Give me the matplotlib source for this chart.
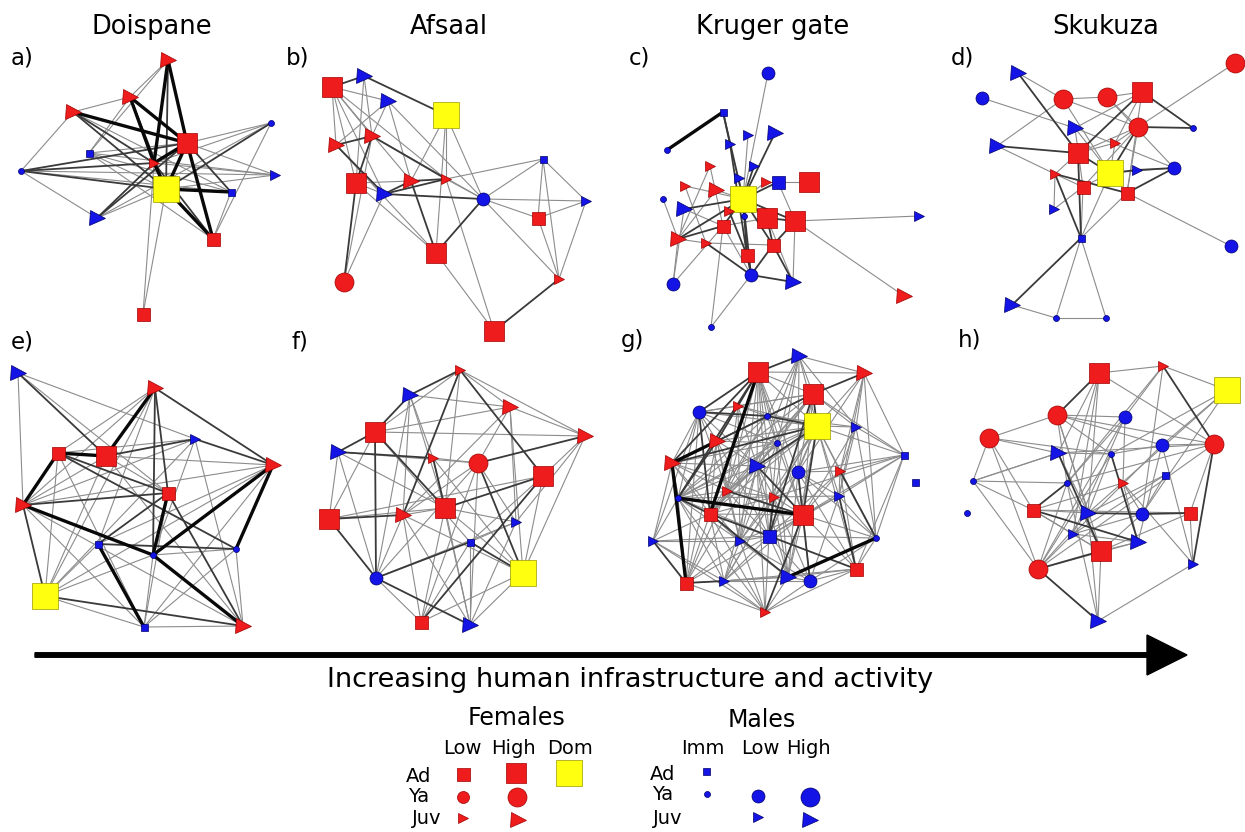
import matplotlib
matplotlib.use("Agg")
import matplotlib.pyplot as plt

RED = "#ee1c1c"
BLUE = "#1414e6"
YEL = "#ffff10"
EDGE_OF = {RED: "#a00000", BLUE: "#00006e", YEL: "#9a9a00"}

# kind -> (marker, colour, size in px)
KINDS = {
    "FAL": ("s", RED, 13), "FAH": ("s", RED, 20), "DOM": ("s", YEL, 26),
    "FYL": ("o", RED, 12), "FYH": ("o", RED, 19),
    "FJL": (">", RED, 10), "FJH": (">", RED, 15),
    "MI": ("s", BLUE, 7), "MA": ("s", BLUE, 13),
    "MYI": ("o", BLUE, 6), "MYL": ("o", BLUE, 13), "MYH": ("o", BLUE, 19),
    "MJL": (">", BLUE, 10), "MJH": (">", BLUE, 15),
}
# edge weight -> (colour, linewidth)
WEIGHTS = {1: ("#8c8c8c", 0.8), 2: ("#3a3a3a", 1.3), 3: ("#080808", 2.4)}

# ---- panel a: Doispane
a_nodes = [(168, 60, "FJH"), (130, 97, "FJH"), (73, 112, "FJH"), (187, 143, "FAH"),
           (89, 153, "MI"), (21, 171, "MYI"), (271, 123, "MYI"), (154, 163, "FJL"),
           (166, 189, "DOM"), (275, 175, "MJL"), (231, 192, "MI"), (97, 218, "MJH"),
           (213, 239, "FAL"), (143, 314, "FAL")]
a_edges = [(0, 1, 1), (0, 4, 1), (0, 3, 3), (0, 7, 3), (0, 8, 2),
           (1, 2, 1), (1, 3, 3), (1, 7, 3), (1, 8, 2), (1, 4, 1),
           (2, 3, 3), (2, 5, 1), (2, 8, 2), (2, 10, 1), (2, 7, 2),
           (3, 7, 3), (3, 8, 3), (3, 6, 1), (3, 9, 1), (3, 12, 3), (3, 10, 2), (3, 11, 2),
           (3, 5, 2), (3, 4, 1), (4, 8, 1), (4, 9, 1), (4, 10, 1), (4, 12, 1),
           (5, 11, 1), (5, 8, 2), (5, 7, 2), (5, 10, 1), (5, 9, 1),
           (6, 8, 2), (6, 12, 1), (6, 7, 1), (6, 11, 1),
           (7, 8, 3), (7, 11, 2), (7, 9, 1), (7, 12, 2),
           (8, 12, 3), (8, 10, 3), (8, 13, 1), (8, 11, 1), (8, 9, 1), (10, 12, 1), (13, 7, 1)]

# ---- panel b: Afsaal
b_nodes = [(332, 87, "FAH"), (364, 76, "MJH"), (388, 101, "MJH"), (446, 115, "DOM"),
           (336, 145, "FJH"), (372, 136, "FJH"), (356, 183, "FAH"), (384, 194, "MJH"),
           (411, 181, "FJH"), (446, 179, "FJL"), (483, 199, "MYL"), (543, 159, "MI"),
           (586, 201, "MJL"), (538, 218, "FAL"), (436, 253, "FAH"), (344, 282, "FYH"),
           (559, 279, "FJL"), (494, 331, "FAH")]
b_edges = [(0, 1, 2), (0, 2, 1), (0, 4, 1), (0, 5, 1), (0, 6, 1), (0, 7, 1), (0, 8, 1), (0, 9, 1),
           (1, 3, 2), (1, 5, 1), (1, 6, 1), (2, 5, 1), (2, 8, 1), (2, 10, 1),
           (3, 9, 1), (3, 14, 1), (3, 10, 1), (3, 8, 1),
           (4, 5, 2), (4, 7, 2), (4, 14, 1), (4, 2, 1), (5, 6, 2), (5, 9, 2), (5, 10, 1),
           (6, 8, 1), (6, 7, 1), (6, 15, 2), (6, 14, 1), (7, 8, 2), (7, 9, 2), (7, 10, 2), (7, 15, 1),
           (8, 9, 2), (8, 14, 2), (9, 11, 1), (9, 10, 1), (9, 17, 1),
           (10, 14, 2), (10, 11, 1), (10, 12, 1), (10, 13, 1), (10, 16, 1),
           (11, 12, 1), (11, 13, 1), (11, 16, 1), (12, 13, 1), (12, 16, 1), (13, 16, 1),
           (14, 17, 1), (16, 17, 2), (15, 5, 1)]

# ---- panel c: Kruger gate
c_nodes = [(768, 73, "MYL"), (723, 112, "MI"), (667, 150, "MYI"), (775, 133, "MJH"),
           (748, 135, "MJL"), (730, 144, "MJL"), (710, 166, "FJL"), (754, 166, "MJL"),
           (739, 178, "MJL"), (766, 182, "FJL"), (778, 182, "MA"), (809, 182, "FAH"),
           (685, 186, "FJL"), (716, 190, "FJH"), (743, 199, "DOM"), (663, 199, "MYI"),
           (684, 209, "MJH"), (729, 211, "FJL"), (744, 216, "MYI"), (767, 218, "FAH"),
           (795, 221, "FAH"), (723, 226, "FAL"), (919, 216, "MJL"), (678, 239, "FJH"),
           (706, 243, "FJL"), (773, 245, "FAL"), (747, 255, "FAL"), (673, 284, "MYL"),
           (751, 275, "MYL"), (793, 282, "MJH"), (904, 296, "FJH"), (711, 327, "MYI")]
c_edges = [(0, 14, 1), (1, 2, 3), (1, 5, 2), (1, 14, 2), (3, 14, 2), (4, 14, 1), (5, 14, 1),
           (5, 26, 2), (6, 21, 1), (6, 23, 1), (7, 14, 2), (8, 14, 1), (9, 14, 1), (10, 14, 2),
           (10, 9, 1), (10, 20, 1), (11, 10, 1), (12, 14, 1), (12, 24, 1), (13, 14, 1), (13, 23, 1),
           (15, 23, 1), (16, 14, 2), (16, 21, 1), (17, 14, 2), (17, 26, 2), (19, 14, 2), (19, 25, 2),
           (19, 29, 1), (20, 14, 2), (20, 22, 1), (20, 30, 1), (20, 25, 2), (21, 14, 2), (21, 28, 1),
           (21, 23, 2), (23, 27, 1), (23, 24, 1), (24, 28, 2), (24, 25, 1), (25, 28, 2), (26, 28, 2),
           (26, 14, 2), (27, 21, 1), (27, 16, 1), (28, 29, 2), (28, 31, 1), (31, 21, 1), (29, 20, 1),
           (14, 28, 2), (14, 25, 2), (19, 20, 2), (19, 21, 1), (18, 14, 1), (18, 28, 1), (23, 14, 2),
           (25, 29, 2)]

# ---- panel d: Skukuza
d_nodes = [(1235, 63, "FYH"), (1018, 73, "MJH"), (982, 98, "MYL"), (1063, 99, "FYH"),
           (1107, 97, "FYH"), (1142, 92, "FAH"), (1138, 127, "FYH"), (1193, 128, "MYI"),
           (1075, 128, "MJH"), (997, 146, "MJH"), (1078, 153, "FAH"), (1115, 143, "FJL"),
           (1110, 173, "DOM"), (1137, 170, "MJL"), (1174, 168, "MYL"), (1055, 174, "FJL"),
           (1083, 187, "FAL"), (1127, 193, "FAL"), (1054, 209, "MJL"), (1081, 238, "MI"),
           (1231, 246, "MYL"), (1012, 305, "MJH"), (1056, 318, "MYI"), (1106, 318, "MYI")]
d_edges = [(0, 6, 1), (1, 3, 1), (1, 10, 2), (2, 8, 1), (3, 4, 1), (3, 9, 1), (3, 6, 1), (3, 12, 1),
           (4, 5, 1), (4, 6, 1), (4, 14, 1), (5, 7, 2), (5, 8, 1), (5, 10, 2), (5, 11, 1),
           (6, 7, 2), (6, 10, 1), (6, 11, 1), (6, 12, 2), (6, 16, 1), (6, 17, 1),
           (9, 10, 2), (9, 15, 1), (10, 12, 2), (10, 19, 2), (10, 15, 1), (10, 11, 1),
           (8, 12, 1), (8, 16, 1), (11, 12, 1), (12, 13, 2), (12, 14, 1), (12, 19, 1),
           (13, 14, 2), (14, 17, 2), (14, 8, 1), (15, 17, 2), (15, 16, 1), (15, 18, 1), (15, 19, 2),
           (16, 19, 1), (17, 20, 1), (17, 19, 1), (16, 18, 1), (19, 21, 2), (19, 22, 1), (19, 23, 1),
           (21, 22, 1), (22, 23, 1), (5, 17, 1), (12, 16, 1)]

# ---- panel e
e_nodes = [(18, 373, "MJH"), (155, 388, "FJH"), (195, 439, "MJL"), (58, 453, "FAL"),
           (106, 456, "FAH"), (273, 465, "FJH"), (168, 493, "FAL"), (23, 505, "FJH"),
           (98, 544, "MI"), (153, 555, "MYI"), (236, 549, "MYI"), (45, 596, "DOM"),
           (144, 627, "MI"), (243, 626, "FJH")]
e_edges = [(0, 7, 1), (0, 4, 2), (0, 6, 1), (0, 2, 1), (1, 4, 3), (1, 3, 1), (1, 5, 2), (1, 6, 2),
           (1, 9, 2), (1, 7, 1), (1, 8, 1), (1, 11, 1), (2, 3, 1), (2, 4, 2), (2, 5, 2), (2, 9, 1),
           (2, 13, 1), (2, 11, 1), (2, 7, 1), (3, 4, 3), (3, 7, 3), (3, 6, 2), (3, 10, 2), (3, 11, 1),
           (3, 12, 1), (4, 6, 1), (4, 13, 1), (4, 7, 1), (4, 5, 1), (4, 11, 1), (5, 9, 3), (5, 10, 3),
           (5, 7, 1), (5, 8, 1), (5, 12, 1), (5, 11, 1), (6, 9, 3), (6, 8, 2), (6, 13, 2), (6, 7, 2),
           (6, 12, 1), (7, 9, 3), (7, 11, 2), (7, 12, 1), (7, 13, 1), (8, 12, 3), (8, 10, 2),
           (8, 11, 1), (9, 13, 3), (9, 12, 1), (9, 10, 1), (10, 13, 1), (10, 12, 1), (11, 13, 2),
           (11, 12, 1), (12, 13, 1), (9, 11, 1)]

# ---- panel f
f_nodes = [(460, 370, "FJL"), (410, 395, "MJH"), (510, 407, "FJH"), (375, 432, "FAH"),
           (585, 436, "FJH"), (338, 452, "MJH"), (433, 458, "FJL"), (478, 463, "FYH"),
           (543, 476, "FAH"), (329, 519, "FAH"), (403, 515, "FJH"), (445, 508, "FAH"),
           (516, 522, "MJL"), (470, 542, "MI"), (523, 573, "DOM"), (376, 578, "MYL"),
           (421, 622, "FAL"), (470, 625, "MJH")]
f_edges = [(0, 1, 2), (0, 2, 1), (0, 4, 1), (0, 10, 2), (0, 8, 2), (0, 3, 1), (0, 11, 1),
           (1, 3, 2), (1, 2, 1), (1, 11, 1), (1, 15, 1), (1, 10, 1), (1, 6, 1),
           (2, 3, 1), (2, 4, 1), (2, 7, 1), (2, 12, 1), (2, 14, 1), (2, 10, 1),
           (3, 5, 2), (3, 11, 2), (3, 15, 2), (3, 4, 1), (3, 13, 1), (3, 9, 1),
           (4, 7, 2), (4, 8, 1), (4, 14, 1), (4, 12, 1),
           (5, 6, 2), (5, 9, 1), (5, 15, 1), (5, 11, 1), (5, 7, 1),
           (6, 7, 1), (6, 11, 2), (6, 17, 1), (6, 14, 1),
           (7, 14, 2), (7, 10, 1), (7, 12, 1), (7, 15, 1), (7, 16, 1), (7, 17, 1),
           (8, 11, 2), (8, 9, 1), (8, 16, 2), (8, 13, 1), (8, 14, 1),
           (9, 10, 2), (9, 15, 2), (9, 11, 1), (10, 11, 1), (10, 15, 1), (10, 16, 1), (10, 17, 1),
           (10, 14, 1), (11, 12, 1), (11, 16, 1), (11, 17, 1), (11, 14, 1),
           (12, 13, 1), (12, 15, 1), (12, 17, 1), (13, 14, 2), (13, 15, 2), (13, 17, 1), (13, 16, 1),
           (14, 16, 1), (14, 17, 1), (15, 16, 1), (15, 17, 2)]

# ---- panel g
g_nodes = [(799, 356, "MJH"), (758, 372, "FAH"), (864, 373, "FJH"), (813, 394, "FAH"),
           (699, 412, "MYL"), (738, 406, "FJL"), (767, 416, "MYI"), (817, 426, "DOM"),
           (856, 427, "MJL"), (717, 441, "FJH"), (777, 443, "MYI"), (904, 455, "MI"),
           (672, 463, "FJH"), (757, 466, "MJH"), (798, 472, "MYL"), (840, 471, "FJL"),
           (915, 482, "MI"), (727, 491, "FJL"), (678, 498, "MYI"), (774, 497, "FJL"),
           (839, 496, "MJL"), (710, 514, "FAL"), (803, 515, "FAH"), (653, 541, "MJL"),
           (740, 541, "MJL"), (769, 536, "MA"), (876, 538, "MYI"), (856, 569, "FAL"),
           (686, 583, "FAL"), (724, 581, "MJL"), (788, 577, "MJH"), (810, 581, "MYL"),
           (765, 612, "FJL")]
g_edges = [
    (1, 0, 2), (1, 3, 1), (1, 4, 2), (1, 5, 1), (1, 6, 1), (1, 7, 1), (1, 9, 2), (1, 10, 1),
    (1, 12, 2), (1, 13, 1), (1, 14, 1), (1, 17, 1), (1, 18, 2), (1, 19, 1), (1, 21, 3),
    (1, 22, 1), (1, 24, 1), (1, 25, 1), (1, 2, 1),
    (0, 2, 1), (0, 3, 1), (0, 7, 1), (0, 8, 1), (0, 14, 1), (0, 13, 1), (0, 10, 1), (0, 6, 1),
    (0, 19, 1), (2, 3, 2), (2, 7, 1), (2, 8, 1), (2, 11, 1), (2, 20, 1), (2, 26, 1), (2, 15, 1),
    (2, 14, 1), (3, 4, 1), (3, 7, 2), (3, 8, 1), (3, 5, 1), (3, 6, 1), (3, 9, 1), (3, 10, 1),
    (3, 12, 2), (3, 13, 1), (3, 14, 1), (3, 17, 1), (3, 18, 1), (3, 21, 1), (3, 22, 1),
    (3, 25, 2), (3, 11, 1), (4, 5, 1), (4, 6, 2), (4, 7, 1), (4, 9, 1), (4, 12, 1), (4, 18, 1),
    (4, 21, 2), (4, 23, 1), (4, 13, 1), (4, 10, 1), (4, 17, 1), (4, 28, 1),
    (5, 6, 1), (5, 7, 1), (5, 9, 1), (5, 13, 1), (5, 17, 1), (5, 24, 1),
    (6, 7, 2), (6, 8, 1), (6, 9, 1), (6, 12, 1), (6, 17, 1), (6, 18, 1), (6, 21, 1), (6, 22, 1),
    (7, 8, 1), (7, 9, 1), (7, 10, 1), (7, 11, 1), (7, 12, 2), (7, 13, 2), (7, 14, 1), (7, 15, 1),
    (7, 17, 1), (7, 18, 1), (7, 19, 1), (7, 20, 1), (7, 21, 1), (7, 22, 2), (7, 24, 1),
    (7, 25, 1), (7, 26, 1), (7, 27, 1), (7, 29, 1), (7, 30, 1),
    (8, 11, 1), (8, 15, 1), (8, 20, 1), (8, 26, 1), (8, 22, 1),
    (9, 10, 1), (9, 12, 3), (9, 17, 1), (9, 18, 2), (9, 21, 1), (9, 13, 1), (9, 24, 1),
    (9, 25, 1), (9, 28, 1), (10, 12, 1), (10, 13, 1), (10, 18, 1), (10, 21, 1), (10, 24, 1),
    (10, 25, 1), (10, 30, 1), (11, 15, 1), (11, 20, 1), (11, 26, 1), (11, 22, 1), (11, 27, 1),
    (11, 14, 1), (11, 19, 1), (12, 18, 2), (12, 21, 1), (12, 23, 1), (12, 17, 1), (12, 24, 1),
    (12, 28, 3), (12, 19, 1), (12, 13, 1), (13, 14, 1), (13, 17, 1), (13, 18, 1), (13, 19, 1),
    (13, 21, 1), (13, 22, 2), (13, 24, 1), (13, 25, 1), (13, 28, 1), (13, 29, 1), (13, 30, 1),
    (13, 32, 1), (14, 15, 1), (14, 19, 1), (14, 20, 1), (14, 22, 1), (14, 25, 1), (14, 26, 1),
    (14, 27, 1), (14, 31, 2), (14, 30, 1), (15, 20, 1), (15, 22, 1), (15, 26, 2), (15, 27, 1),
    (15, 25, 1), (17, 18, 1), (17, 19, 1), (17, 21, 1), (17, 24, 1), (17, 25, 1), (17, 28, 1),
    (17, 22, 2), (18, 21, 2), (18, 23, 1), (18, 28, 1), (18, 29, 1), (18, 32, 1), (18, 24, 1),
    (18, 25, 1), (18, 19, 1), (18, 22, 3), (19, 21, 1), (19, 22, 1), (19, 24, 1), (19, 25, 2),
    (19, 20, 1), (19, 29, 1), (19, 30, 1), (19, 31, 1), (20, 22, 1), (20, 25, 1), (20, 26, 1),
    (20, 27, 2), (20, 31, 1), (21, 23, 1), (21, 24, 1), (21, 25, 2), (21, 28, 1), (21, 29, 1),
    (21, 30, 2), (21, 32, 1), (21, 22, 1), (22, 25, 1), (22, 26, 1), (22, 27, 1), (22, 29, 1),
    (22, 30, 1), (22, 31, 1), (22, 32, 2), (22, 24, 1), (23, 28, 2), (23, 29, 1), (23, 32, 1),
    (23, 24, 1), (23, 25, 1), (24, 25, 1), (24, 28, 1), (24, 29, 1), (24, 30, 1), (24, 32, 1),
    (24, 31, 1), (25, 26, 1), (25, 27, 2), (25, 28, 1), (25, 29, 1), (25, 30, 1), (25, 31, 1),
    (25, 32, 1), (26, 27, 1), (26, 30, 3), (26, 31, 1), (27, 29, 1), (27, 30, 1), (27, 31, 1),
    (27, 32, 1), (28, 29, 2), (28, 32, 1), (28, 30, 1), (29, 30, 1), (29, 32, 1), (29, 31, 1),
    (30, 31, 1), (30, 32, 1), (31, 32, 1)]

# ---- panel h
h_nodes = [(1099, 373, "FAH"), (1163, 366, "FJL"), (1227, 390, "DOM"), (1057, 415, "FYH"),
           (1125, 417, "MYL"), (989, 438, "FYH"), (1162, 445, "MYL"), (1214, 444, "FYH"),
           (1058, 453, "MJH"), (1111, 454, "MYI"), (1165, 475, "MI"), (973, 481, "MYI"),
           (1067, 483, "MYI"), (1123, 483, "FJL"), (967, 513, "MYI"), (1033, 510, "FAL"),
           (1088, 513, "MJH"), (1142, 514, "MYL"), (1190, 513, "FAL"), (1073, 534, "MJL"),
           (1138, 542, "MJH"), (1101, 551, "FAH"), (1038, 569, "FYH"), (1193, 564, "MJL"),
           (1098, 621, "MJH")]
h_edges = [(0, 1, 1), (0, 3, 2), (0, 12, 1), (0, 7, 1), (0, 19, 1), (0, 16, 1), (0, 8, 1),
           (1, 2, 1), (1, 7, 2), (1, 12, 1), (1, 17, 1), (1, 4, 1),
           (2, 6, 1), (2, 16, 1), (2, 9, 1), (2, 17, 1),
           (3, 5, 1), (3, 4, 1), (3, 9, 1), (3, 6, 1), (3, 7, 1), (3, 16, 1), (3, 21, 1), (3, 12, 1),
           (4, 13, 1), (4, 12, 1), (4, 19, 1), (4, 22, 1),
           (5, 11, 1), (5, 8, 1), (5, 9, 1), (5, 22, 1), (5, 15, 1),
           (6, 7, 1), (6, 9, 1), (6, 20, 1), (6, 22, 1), (6, 23, 1),
           (7, 18, 1), (7, 23, 2), (7, 22, 1), (7, 8, 1), (7, 12, 1),
           (8, 9, 1), (8, 21, 2), (8, 16, 1), (8, 11, 1), (9, 20, 2), (9, 16, 1), (9, 22, 1),
           (10, 16, 1), (10, 17, 1), (10, 19, 1), (11, 15, 1), (11, 22, 1), (11, 8, 1), (11, 12, 1),
           (12, 15, 2), (12, 21, 1), (12, 24, 1), (12, 22, 1),
           (13, 20, 1), (13, 23, 1), (13, 17, 1), (13, 15, 1),
           (15, 16, 1), (15, 20, 2), (15, 19, 1), (15, 21, 1),
           (16, 17, 2), (16, 18, 1), (16, 24, 1), (16, 22, 1),
           (17, 18, 2), (17, 21, 1), (17, 19, 1), (18, 23, 1), (18, 21, 1), (18, 15, 1),
           (19, 21, 1), (19, 20, 1), (20, 22, 1), (20, 21, 1), (21, 22, 2), (21, 24, 1),
           (22, 24, 2), (23, 24, 1)]

site_names = ["Doispane", "Afsaal", "Kruger gate", "Skukuza"]
site_x = [152, 449, 773, 1106]
panel_letters = ["a)", "b)", "c)", "d)", "e)", "f)", "g)", "h)"]
letter_x = [22, 298, 639, 962, 22, 300, 632, 970]
letter_y = [58, 58, 58, 58, 342, 342, 340, 340]

fig = plt.figure(figsize=(12.45, 8.32), dpi=100)
ax = fig.add_axes([0, 0, 1, 1])
ax.set_xlim(0, 1245)
ax.set_ylim(832, 0)
ax.axis("off")

PX = 0.72  # points per pixel at 100 dpi


def draw_node(x, y, kind):
    marker, col, size = KINDS[kind]
    ax.plot(x, y, marker=marker, ms=size * PX, color=col,
            markeredgecolor=EDGE_OF[col], mew=0.5, ls="none", zorder=4)


def draw_panel(nodes, edges):
    for w in (1, 2, 3):
        col, lw = WEIGHTS[w]
        for i, j, ew in edges:
            if ew != w:
                continue
            ax.plot([nodes[i][0], nodes[j][0]], [nodes[i][1], nodes[j][1]],
                    color=col, lw=lw, solid_capstyle="round", zorder=1 + w * 0.1)
    for x, y, kind in nodes:
        draw_node(x, y, kind)


for nodes, edges in [(a_nodes, a_edges), (b_nodes, b_edges), (c_nodes, c_edges),
                     (d_nodes, d_edges), (e_nodes, e_edges), (f_nodes, f_edges),
                     (g_nodes, g_edges), (h_nodes, h_edges)]:
    draw_panel(nodes, edges)

for name, x in zip(site_names, site_x):
    ax.text(x, 27, name, fontsize=18.5, ha="center", va="center")
for lab, x, y in zip(panel_letters, letter_x, letter_y):
    ax.text(x, y, lab, fontsize=16.5, ha="center", va="center")

# arrow and caption
ax.arrow(35, 655, 1152, 0, width=4.5, head_width=40, head_length=40,
         length_includes_head=True, color="black", zorder=5)
ax.text(630, 680, "Increasing human infrastructure and activity",
        fontsize=19.5, ha="center", va="center")

# legend
ax.text(517, 718, "Females", fontsize=17, ha="center", va="center")
ax.text(762, 720, "Males", fontsize=17, ha="center", va="center")
for lab, x in [("Low", 462), ("High", 513), ("Dom", 570), ("Imm", 703), ("Low", 760), ("High", 808)]:
    ax.text(x, 748, lab, fontsize=14, ha="center", va="center")
for lab, x, y in [("Ad", 419, 776), ("Ya", 419, 796), ("Juv", 427, 818),
                  ("Ad", 663, 775), ("Ya", 663, 795), ("Juv", 668, 818)]:
    ax.text(x, y, lab, fontsize=14, ha="center", va="center")

legend_kinds = ["FAL", "FAH", "DOM", "FYL", "FYH", "FJL", "FJH",
                "MI", "MYI", "MYL", "MYH", "MJL", "MJH"]
legend_x = [463, 516, 569, 463, 517, 463, 518, 706, 707, 758, 810, 758, 810]
legend_y = [774, 773, 773, 797, 797, 818, 820, 771, 794, 796, 797, 817, 820]
for kind, x, y in zip(legend_kinds, legend_x, legend_y):
    draw_node(x, y, kind)

fig.savefig("out.png", dpi=100)
